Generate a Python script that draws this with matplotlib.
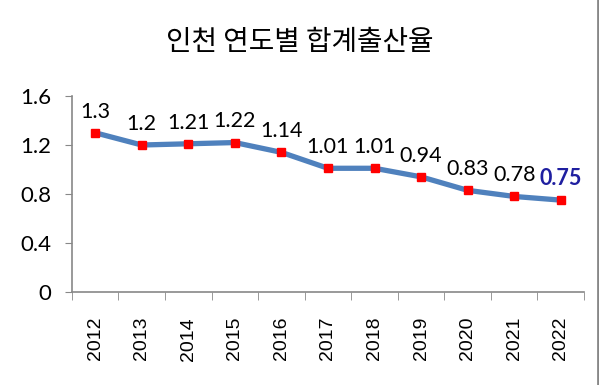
import matplotlib.pyplot as plt
from matplotlib.lines import Line2D

years = ['2012', '2013', '2014', '2015', '2016', '2017', '2018', '2019', '2020', '2021', '2022']
rates = [1.3, 1.2, 1.21, 1.22, 1.14, 1.01, 1.01, 0.94, 0.83, 0.78, 0.75]
labels = ['1.3', '1.2', '1.21', '1.22', '1.14', '1.01', '1.01', '0.94', '0.83', '0.78', '0.75']

fig = plt.figure(figsize=(5.99, 3.85), dpi=100)
ax = fig.add_axes([0.120, 0.2416, 0.855, 0.509])

x = list(range(len(years)))
ax.plot(x, rates, color='#4F81BD', linewidth=3.8, marker='s', markersize=6,
        markerfacecolor='#FF0000', markeredgecolor='#FF0000', zorder=3)

for i, (v, s) in enumerate(zip(rates, labels)):
    last = i == len(rates) - 1
    ax.annotate(s, (i, v), xytext=(0, 8), textcoords='offset points',
                ha='center', va='bottom', fontsize=15.5, family='Lato',
                color='#1F1FA0' if last else 'black',
                fontweight='bold' if last else 'normal')

ax.set_xlim(-0.5, len(years) - 0.5)
ax.set_ylim(0, 1.6)
ax.set_yticks([0, 0.4, 0.8, 1.2, 1.6])
ax.set_yticklabels(['0', '0.4', '0.8', '1.2', '1.6'], family='Lato', fontsize=16)

ax.set_xticks(x)
ax.set_xticklabels(years, rotation=90, family='Liberation Sans', fontsize=14)
ax.set_xticks([i - 0.5 for i in range(len(years) + 1)], minor=True)
ax.tick_params(axis='x', which='major', length=0, pad=18)
ax.tick_params(axis='x', which='minor', length=6, color='#888888', direction='out')
ax.tick_params(axis='y', length=5, color='#888888', pad=10)

for side in ['top', 'right']:
    ax.spines[side].set_visible(False)
for side in ['left', 'bottom']:
    ax.spines[side].set_color('#888888')
    ax.spines[side].set_linewidth(1.2)

fig.text(0.5, 0.89, '인천 연도별 합계출산율', ha='center', va='center',
         fontsize=20, family='Noto Sans CJK KR')

fig.add_artist(Line2D([0.9975, 0.9975], [0, 1], color='#888888', linewidth=2,
                      transform=fig.transFigure))

fig.savefig('out.png', dpi=100)
